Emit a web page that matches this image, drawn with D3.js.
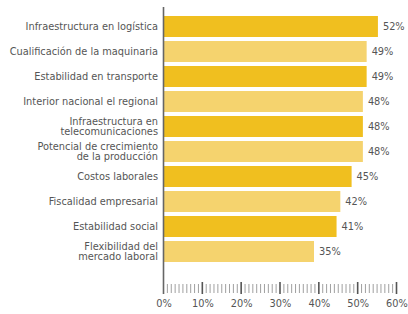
<!DOCTYPE html>
<html>
<head>
<meta charset="utf-8">
<script src="https://cdn.jsdelivr.net/npm/d3@7"></script>
<style>
  body { margin: 0; background: #fff; }
  svg text { font-family: "DejaVu Sans", sans-serif; fill: #555; }
</style>
</head>
<body>
<div id="chart"></div>
<script>
const categories = [
  ['Infraestructura en logística'],
  ['Cualificación de la maquinaria'],
  ['Estabilidad en transporte'],
  ['Interior nacional el regional'],
  ['Infraestructura en', 'telecomunicaciones'],
  ['Potencial de crecimiento', 'de la producción'],
  ['Costos laborales'],
  ['Fiscalidad empresarial'],
  ['Estabilidad social'],
  ['Flexibilidad del', 'mercado laboral']
];
const values = [52, 49, 49, 48, 48, 48, 45, 42, 41, 35];
const tickValues = [0, 10, 20, 30, 40, 50, 60];

const W = 408, H = 314;
const left = 163.5;
const colors = ['#f0bf1f', '#f5d36e'];
const font = 9.8;

const svg = d3.select('#chart').append('svg')
  .attr('width', W).attr('height', H);

// axis scale, and the bar scale (bars in the original don't follow the axis exactly)
const x = d3.scaleLinear().domain([0, 60]).range([left, 396.5]);
const xBar = d3.scaleLinear().domain([0, 60]).range([182.4, 408]);

const y = d3.scaleBand()
  .domain(d3.range(categories.length))
  .range([14, 264])
  .paddingInner(0.16)
  .paddingOuter(0.08);

svg.selectAll('.bar')
  .data(values)
  .enter()
  .append('rect')
  .attr('class', 'bar')
  .attr('x', left)
  .attr('y', (d, i) => y(i))
  .attr('width', d => xBar(d) - left)
  .attr('height', y.bandwidth())
  .attr('fill', (d, i) => colors[i % 2]);

svg.selectAll('.val')
  .data(values)
  .enter()
  .append('text')
  .attr('class', 'val')
  .attr('x', d => xBar(d) + 5)
  .attr('y', (d, i) => y(i) + y.bandwidth() / 2)
  .attr('dy', '0.35em')
  .attr('font-size', font)
  .text(d => d + '%');

// category labels
const lab = svg.selectAll('.cat')
  .data(categories)
  .enter()
  .append('text')
  .attr('class', 'cat')
  .attr('text-anchor', 'end')
  .attr('font-size', font)
  .attr('y', (d, i) => y(i) + y.bandwidth() / 2);

lab.each((lines, i, nodes) => {
  const t = d3.select(nodes[i]);
  const lh = 9.5;
  const start = -(lines.length - 1) * lh / 2;
  lines.forEach((line, j) => {
    t.append('tspan')
      .attr('x', 158)
      .attr('dy', j === 0 ? (start / font + 0.35) + 'em' : lh)
      .text(line);
  });
});

// left axis line
svg.append('line')
  .attr('x1', left).attr('x2', left)
  .attr('y1', 7).attr('y2', 294)
  .attr('stroke', '#666').attr('stroke-width', 1.6);

// bottom ruler: minor ticks every 1%, major every 10%
const minor = d3.range(1, 61).filter(v => v % 10 !== 0);
svg.selectAll('.minor')
  .data(minor)
  .enter()
  .append('line')
  .attr('x1', d => x(d)).attr('x2', d => x(d))
  .attr('y1', 284).attr('y2', 293)
  .attr('stroke', '#888').attr('stroke-width', 0.8);

svg.selectAll('.major')
  .data(tickValues.slice(1))
  .enter()
  .append('line')
  .attr('x1', d => x(d)).attr('x2', d => x(d))
  .attr('y1', 282).attr('y2', 294)
  .attr('stroke', '#555').attr('stroke-width', 1.6);

svg.append('g')
  .attr('transform', 'translate(0,294)')
  .call(d3.axisBottom(x).tickValues(tickValues).tickSize(0).tickPadding(6).tickFormat(d => d + '%'))
  .call(g => g.select('.domain').remove())
  .call(g => g.selectAll('text')
    .attr('font-size', font)
    .style('font-family', '"DejaVu Sans", sans-serif')
    .attr('fill', '#555'));
</script>
</body>
</html>
